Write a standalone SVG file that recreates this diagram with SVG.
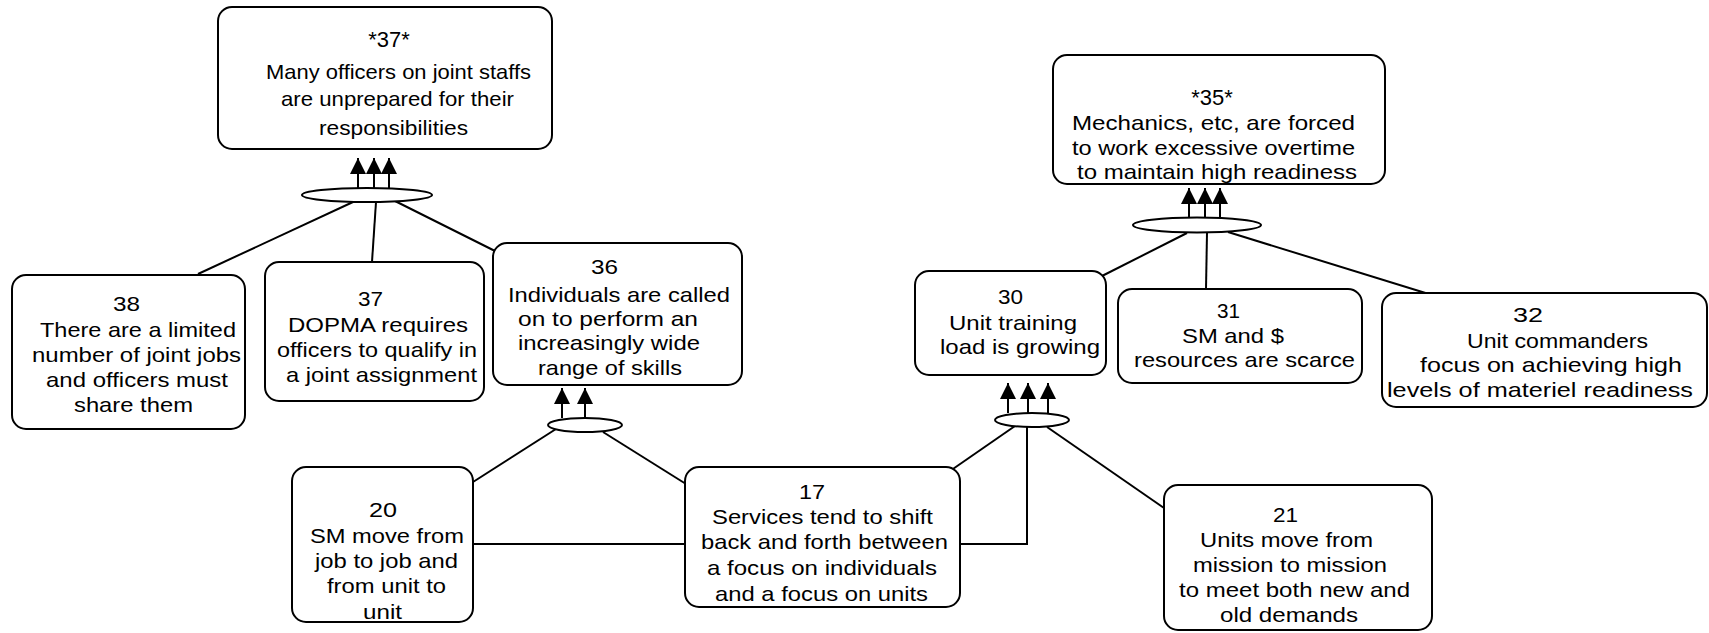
<svg xmlns="http://www.w3.org/2000/svg" width="1709" height="633" viewBox="0 0 1709 633">
  <style>
    .box { fill: #ffffff; stroke: #000000; stroke-width: 2; }
    .junction { fill: #ffffff; stroke: #000000; stroke-width: 2; }
    .link { fill: none; stroke: #000000; stroke-width: 2; }
    .arrow { fill: none; stroke: #000000; stroke-width: 2; marker-end: url(#head); }
    text { font-family: "Liberation Sans", Arial, sans-serif; font-size: 21px; fill: #000000; text-anchor: middle; }
    .star { font-size: 22px; }
  </style>
  <defs>
    <marker id="head" markerUnits="userSpaceOnUse" markerWidth="18" markerHeight="18" refX="16" refY="8" orient="auto">
      <path d="M0,0 L16,8 L0,16 Z" fill="#000000"/>
    </marker>
  </defs>

  <!-- connectors: junction ellipses, arrows and plain links -->
  <g id="connectors">
    <line class="link" x1="353" y1="202" x2="198" y2="274"/>
    <line class="link" x1="376" y1="202" x2="372" y2="262"/>
    <line class="link" x1="395" y1="201" x2="497" y2="252"/>

    <line class="link" x1="556" y1="429" x2="473" y2="482"/>
    <line class="link" x1="603" y1="432" x2="686" y2="484"/>
    <line class="link" x1="473" y1="544" x2="685" y2="544"/>

    <polyline class="link" points="960,544 1027,544 1027,427"/>
    <line class="link" x1="950" y1="471" x2="1015" y2="426"/>
    <line class="link" x1="1047" y1="427" x2="1164" y2="508"/>

    <line class="link" x1="1187" y1="233" x2="1102" y2="276"/>
    <line class="link" x1="1207" y1="233" x2="1206" y2="289"/>
    <line class="link" x1="1228" y1="232" x2="1432" y2="295"/>

    <line class="arrow" x1="358" y1="188" x2="358" y2="158"/>
    <line class="arrow" x1="374" y1="188" x2="374" y2="158"/>
    <line class="arrow" x1="389" y1="188" x2="389" y2="158"/>

    <line class="arrow" x1="562" y1="418" x2="562" y2="388"/>
    <line class="arrow" x1="585" y1="418" x2="585" y2="388"/>

    <line class="arrow" x1="1008" y1="413" x2="1008" y2="383"/>
    <line class="arrow" x1="1028" y1="413" x2="1028" y2="383"/>
    <line class="arrow" x1="1048" y1="413" x2="1048" y2="383"/>

    <line class="arrow" x1="1189" y1="217" x2="1189" y2="188"/>
    <line class="arrow" x1="1205" y1="217" x2="1205" y2="188"/>
    <line class="arrow" x1="1220" y1="217" x2="1220" y2="188"/>

    <ellipse class="junction" cx="367" cy="195" rx="65" ry="7"/>
    <ellipse class="junction" cx="585" cy="425" rx="37" ry="7"/>
    <ellipse class="junction" cx="1032" cy="420" rx="37" ry="7"/>
    <ellipse class="junction" cx="1197" cy="225" rx="64" ry="7.5"/>
  </g>

  <g id="node-37-star">
    <rect class="box" x="218" y="7" width="334" height="142" rx="14"/>
    <text class="star" x="389" y="47">*37*</text>
    <text x="398.5" y="79" textLength="265" lengthAdjust="spacingAndGlyphs">Many officers on joint staffs</text>
    <text x="397.5" y="106" textLength="233" lengthAdjust="spacingAndGlyphs">are unprepared for their</text>
    <text x="393.5" y="135" textLength="149" lengthAdjust="spacingAndGlyphs">responsibilities</text>
  </g>

  <g id="node-38">
    <rect class="box" x="12" y="275" width="233" height="154" rx="14"/>
    <text x="126.5" y="311" textLength="27" lengthAdjust="spacingAndGlyphs">38</text>
    <text x="138" y="337" textLength="196" lengthAdjust="spacingAndGlyphs">There are a limited</text>
    <text x="136.5" y="362" textLength="209" lengthAdjust="spacingAndGlyphs">number of joint jobs</text>
    <text x="137" y="387" textLength="182" lengthAdjust="spacingAndGlyphs">and officers must</text>
    <text x="133.5" y="412" textLength="119" lengthAdjust="spacingAndGlyphs">share them</text>
  </g>

  <g id="node-37">
    <rect class="box" x="265" y="262" width="219" height="139" rx="14"/>
    <text x="370.5" y="306" textLength="25" lengthAdjust="spacingAndGlyphs">37</text>
    <text x="378" y="332" textLength="180" lengthAdjust="spacingAndGlyphs">DOPMA requires</text>
    <text x="377" y="357" textLength="200" lengthAdjust="spacingAndGlyphs">officers to qualify in</text>
    <text x="381.5" y="382" textLength="191" lengthAdjust="spacingAndGlyphs">a joint assignment</text>
  </g>

  <g id="node-36">
    <rect class="box" x="493" y="243" width="249" height="142" rx="14"/>
    <text x="604.5" y="274" textLength="27" lengthAdjust="spacingAndGlyphs">36</text>
    <text x="619" y="302" textLength="222" lengthAdjust="spacingAndGlyphs">Individuals are called</text>
    <text x="608" y="326" textLength="180" lengthAdjust="spacingAndGlyphs">on to perform an</text>
    <text x="609" y="350" textLength="182" lengthAdjust="spacingAndGlyphs">increasingly wide</text>
    <text x="610" y="375" textLength="144" lengthAdjust="spacingAndGlyphs">range of skills</text>
  </g>

  <g id="node-35-star">
    <rect class="box" x="1053" y="55" width="332" height="129" rx="14"/>
    <text class="star" x="1212" y="105">*35*</text>
    <text x="1213.5" y="130" textLength="283" lengthAdjust="spacingAndGlyphs">Mechanics, etc, are forced</text>
    <text x="1213.5" y="155" textLength="283" lengthAdjust="spacingAndGlyphs">to work excessive overtime</text>
    <text x="1217" y="179" textLength="280" lengthAdjust="spacingAndGlyphs">to maintain high readiness</text>
  </g>

  <g id="node-30">
    <rect class="box" x="915" y="271" width="191" height="104" rx="14"/>
    <text x="1010.5" y="304" textLength="25" lengthAdjust="spacingAndGlyphs">30</text>
    <text x="1013" y="330" textLength="128" lengthAdjust="spacingAndGlyphs">Unit training</text>
    <text x="1020" y="354" textLength="160" lengthAdjust="spacingAndGlyphs">load is growing</text>
  </g>

  <g id="node-31">
    <rect class="box" x="1118" y="289" width="244" height="94" rx="14"/>
    <text x="1228.5" y="318" textLength="23" lengthAdjust="spacingAndGlyphs">31</text>
    <text x="1233" y="343" textLength="102" lengthAdjust="spacingAndGlyphs">SM and $</text>
    <text x="1244.5" y="367" textLength="221" lengthAdjust="spacingAndGlyphs">resources are scarce</text>
  </g>

  <g id="node-32">
    <rect class="box" x="1382" y="293" width="325" height="114" rx="14"/>
    <text x="1528" y="322" textLength="30" lengthAdjust="spacingAndGlyphs">32</text>
    <text x="1557.5" y="348" textLength="181" lengthAdjust="spacingAndGlyphs">Unit commanders</text>
    <text x="1551" y="372" textLength="262" lengthAdjust="spacingAndGlyphs">focus on achieving high</text>
    <text x="1540" y="397" textLength="306" lengthAdjust="spacingAndGlyphs">levels of materiel readiness</text>
  </g>

  <g id="node-20">
    <rect class="box" x="292" y="467" width="181" height="155" rx="14"/>
    <text x="383" y="517" textLength="28" lengthAdjust="spacingAndGlyphs">20</text>
    <text x="387" y="543" textLength="154" lengthAdjust="spacingAndGlyphs">SM move from</text>
    <text x="386.5" y="568" textLength="143" lengthAdjust="spacingAndGlyphs">job to job and</text>
    <text x="386.5" y="593" textLength="119" lengthAdjust="spacingAndGlyphs">from unit to</text>
    <text x="382.5" y="619" textLength="39" lengthAdjust="spacingAndGlyphs">unit</text>
  </g>

  <g id="node-17">
    <rect class="box" x="685" y="467" width="275" height="140" rx="14"/>
    <text x="812" y="499" textLength="26" lengthAdjust="spacingAndGlyphs">17</text>
    <text x="822.5" y="524" textLength="221" lengthAdjust="spacingAndGlyphs">Services tend to shift</text>
    <text x="824.5" y="549" textLength="247" lengthAdjust="spacingAndGlyphs">back and forth between</text>
    <text x="822" y="575" textLength="230" lengthAdjust="spacingAndGlyphs">a focus on individuals</text>
    <text x="821.5" y="601" textLength="213" lengthAdjust="spacingAndGlyphs">and a focus on units</text>
  </g>

  <g id="node-21">
    <rect class="box" x="1164" y="485" width="268" height="145" rx="14"/>
    <text x="1285.5" y="522" textLength="25" lengthAdjust="spacingAndGlyphs">21</text>
    <text x="1286.5" y="547" textLength="173" lengthAdjust="spacingAndGlyphs">Units move from</text>
    <text x="1290" y="572" textLength="194" lengthAdjust="spacingAndGlyphs">mission to mission</text>
    <text x="1294.5" y="597" textLength="231" lengthAdjust="spacingAndGlyphs">to meet both new and</text>
    <text x="1289" y="622" textLength="138" lengthAdjust="spacingAndGlyphs">old demands</text>
  </g>
</svg>
